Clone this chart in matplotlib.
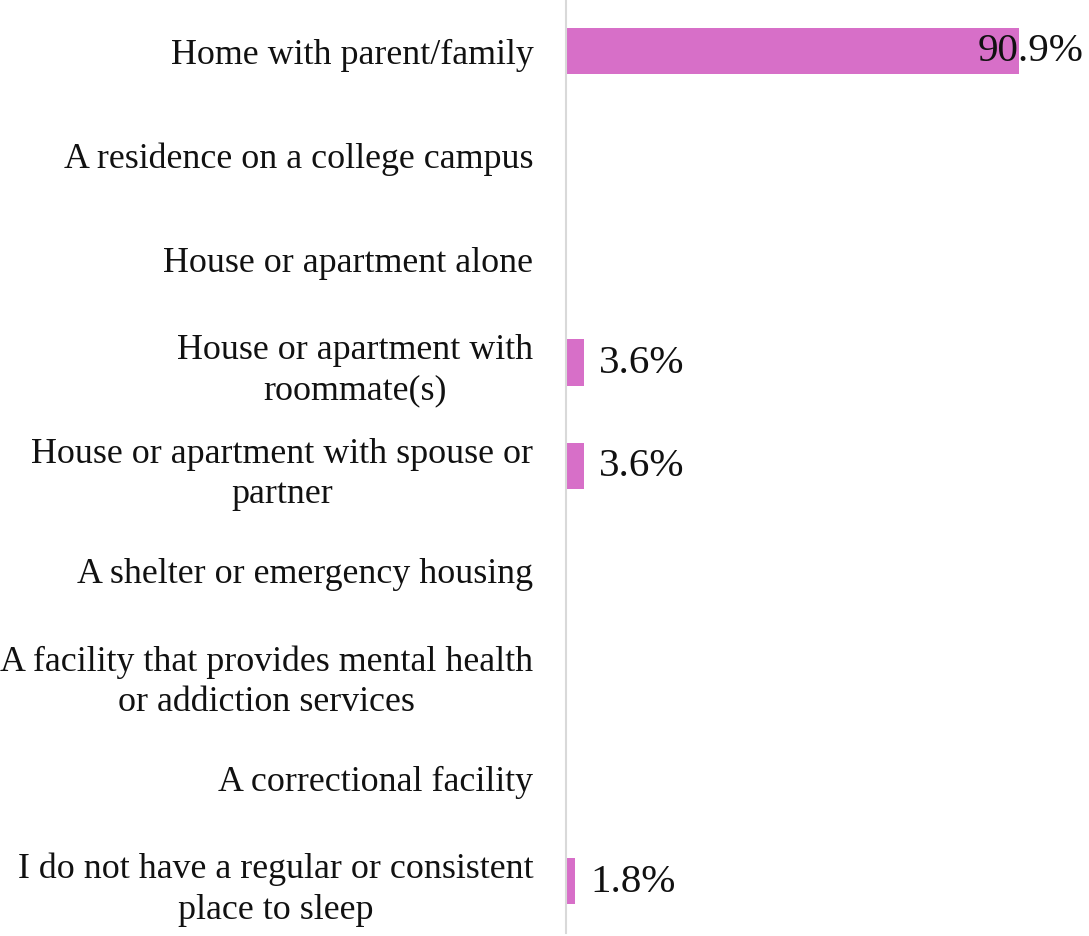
import matplotlib
matplotlib.use("Agg")
import matplotlib.pyplot as plt
from matplotlib.transforms import offset_copy

categories = [
    "Home with parent/family",
    "A residence on a college campus",
    "House or apartment alone",
    "House or apartment with\nroommate(s)",
    "House or apartment with spouse or\npartner",
    "A shelter or emergency housing",
    "A facility that provides mental health\nor addiction services",
    "A correctional facility",
    "I do not have a regular or consistent\nplace to sleep",
]
values = [90.9, 0.0, 0.0, 3.6, 3.6, 0.0, 0.0, 0.0, 1.8]

BAR_COLOR = "#D76FC8"
FONT = ["Liberation Serif", "DejaVu Serif"]
LABEL_FS = 25.8
VALUE_FS = 29.5

fig = plt.figure(figsize=(10.89, 9.37), dpi=100)
ax = fig.add_axes([566 / 1089, 3 / 937, 1 - 566 / 1089, 1 - 3 / 937])

y = list(range(len(categories)))
ax.barh(y, values, height=0.45, color=BAR_COLOR, zorder=2)

ax.set_ylim(len(categories) - 0.5, -0.5)
ax.set_xlim(0, 105)

ax.set_yticks(y)
ax.set_yticklabels(categories, fontsize=LABEL_FS, family=FONT, color="#111111",
                   multialignment="center", linespacing=1.3)
ax.tick_params(axis="y", length=0, pad=23.5)
ax.set_xticks([])

for side in ("top", "right", "bottom"):
    ax.spines[side].set_visible(False)
ax.spines["left"].set_color("#d9d9d9")
ax.spines["left"].set_linewidth(1.5)

for yi, v in zip(y, values):
    if v <= 0:
        continue
    label = f"{v:.1f}%"
    if v > 80:
        tr = offset_copy(ax.transData, fig=fig, x=12, y=0, units="dots")
        ax.text(v, yi, label, transform=tr, ha="center", va="center",
                fontsize=VALUE_FS, family=FONT, color="#111111", zorder=3)
    else:
        tr = offset_copy(ax.transData, fig=fig, x=15, y=0, units="dots")
        ax.text(v, yi, label, transform=tr, ha="left", va="center",
                fontsize=VALUE_FS, family=FONT, color="#111111", zorder=3)

fig.savefig("out.png", dpi=100)
